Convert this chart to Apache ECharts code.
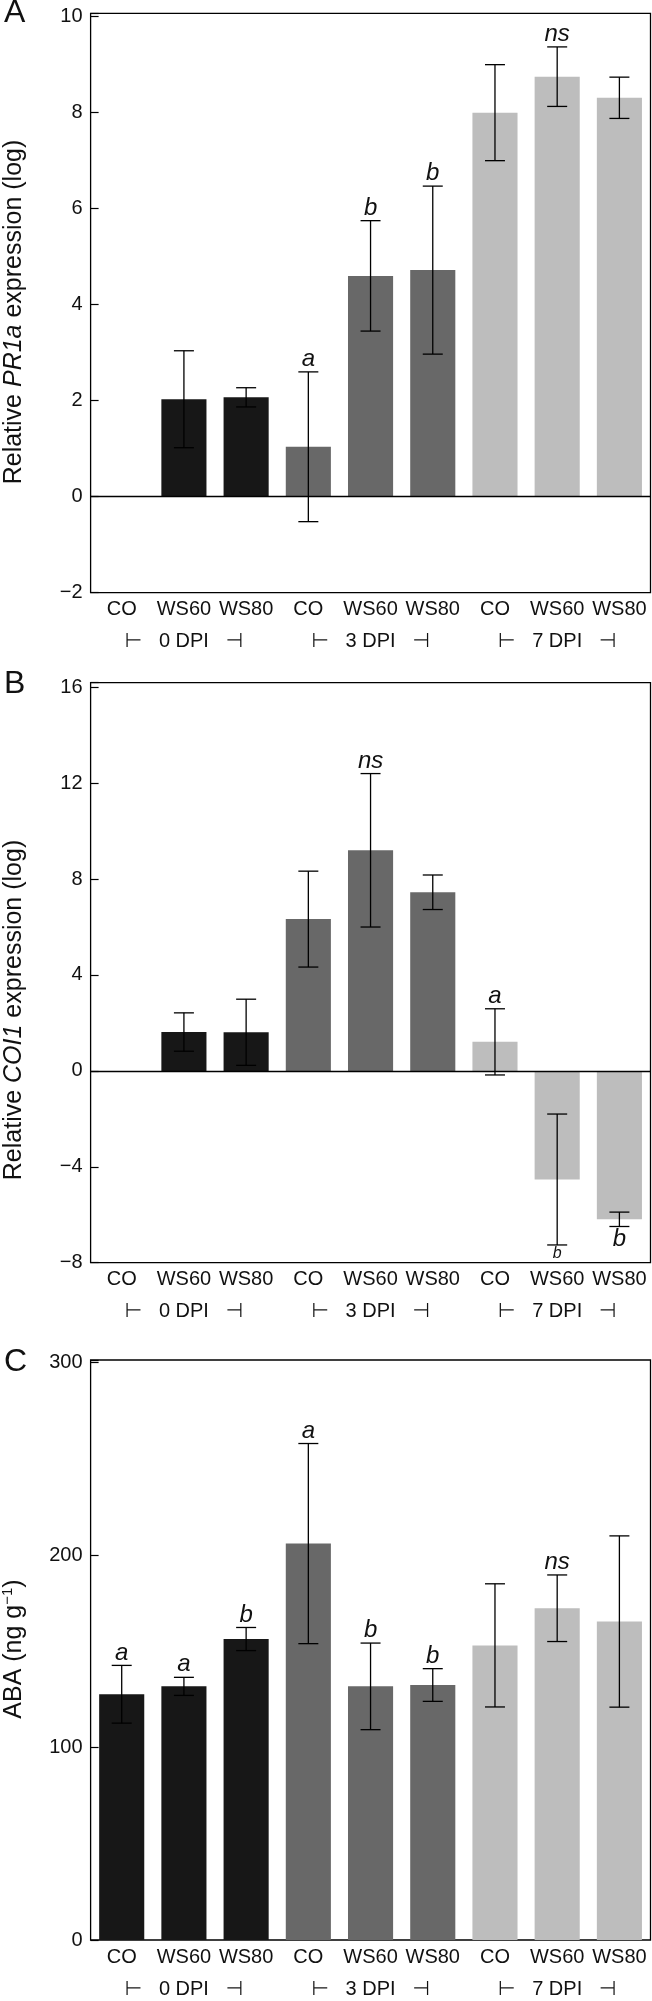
<!DOCTYPE html>
<html>
<head>
<meta charset="utf-8">
<script src="https://cdn.jsdelivr.net/npm/echarts@6/dist/echarts.min.js"></script>
<style>
html,body{margin:0;padding:0;background:#fff;}
#chart{width:652px;height:2001px;}
</style>
</head>
<body>
<div id="chart"></div>
<script>
// ---- data ----
const categories = ['CO', 'WS60', 'WS80', 'CO', 'WS60', 'WS80', 'CO', 'WS60', 'WS80'];
const groups = ['0 DPI', '3 DPI', '7 DPI'];

const pr1aMean = [null, 2.03, 2.07, 1.04, 4.60, 4.72, 8.00, 8.75, 8.31];
const pr1aErr  = [null, 1.01, 0.20, 1.56, 1.15, 1.75, 1.00, 0.62, 0.43];
const pr1aSig  = ['', '', '', 'a', 'b', 'b', '', 'ns', ''];

const coi1Mean = [null, 1.62, 1.61, 6.33, 9.20, 7.45, 1.21, -4.53, -6.19];
const coi1Err  = [null, 0.80, 1.38, 2.00, 3.20, 0.72, 1.38, 2.73, 0.30];
const coi1Sig  = ['', '', '', '', 'ns', '', 'a', 'b', 'b'];

const abaMean = [127.7, 131.8, 156.4, 206.0, 131.8, 132.5, 153.1, 172.4, 165.5];
const abaErr  = [15.0, 4.7, 6.0, 52.0, 22.5, 8.5, 32.0, 17.3, 44.5];
const abaSig  = ['a', 'a', 'b', 'a', 'b', 'b', '', 'ns', ''];

const yTicksA = {min: -2, max: 10, interval: 2};
const yTicksB = {min: -8, max: 16, interval: 4};
const yTicksC = {min: 0, max: 300, interval: 100};

// ---- styles ----
const FONT = "'Liberation Sans', Arial, Helvetica, 'DejaVu Sans', sans-serif";
const groupColors = ['#171717', '#686868', '#bdbdbd'];

const panels = [
  {mean: pr1aMean, err: pr1aErr, sig: pr1aSig, ticks: yTicksA, top: 13.3, height: 579.4, extra: 0.07,
   sigPos: [], sigSize: [], zero: true,
   name: '{n|Relative }{i|PR1a}{n| expression (log)}', titleY: 312, letter: 'A', letterY: 13},
  {mean: coi1Mean, err: coi1Err, sig: coi1Sig, ticks: yTicksB, top: 682.7, height: 580, extra: 0.19,
   sigPos: ['t','t','t','t','t','t','t','b','b'], sigSize: [24,24,24,24,24,24,24,16,24], zero: true,
   name: '{n|Relative }{i|COI1}{n| expression (log)}', titleY: 1010, letter: 'B', letterY: 684},
  {mean: abaMean, err: abaErr, sig: abaSig, ticks: yTicksC, top: 1360, height: 580, extra: 1.4,
   sigPos: [], sigSize: [], zero: false,
   name: '{n|ABA (ng g}{s|\u22121}{n|)}', titleY: 1649, letter: 'C', letterY: 1362}
];

const fmtTick = (interval) => (v) => {
  const r = Math.round(v / interval) * interval;
  if (Math.abs(v - r) > 1e-6) return '';
  return r < 0 ? '\u2212' + Math.abs(r) : String(r);
};

const option = {
  animation: false,
  backgroundColor: '#fff',
  textStyle: {fontFamily: FONT},
  grid: [], xAxis: [], yAxis: [], series: [], graphic: []
};

panels.forEach((p, k) => {
  option.grid.push({
    left: 90.6, right: 1.5, top: p.top, height: p.height,
    show: true, borderColor: '#000', borderWidth: 1.3, backgroundColor: 'transparent'
  });
  option.xAxis.push({
    gridIndex: k, type: 'category', data: categories,
    axisLine: {show: false, onZero: false}, axisTick: {show: false},
    axisLabel: {color: '#111', fontSize: 20, fontFamily: FONT, margin: 7, interval: 0}
  });
  option.xAxis.push({
    gridIndex: k, type: 'category', data: groups, position: 'bottom', offset: 32,
    axisLine: {show: false, onZero: false}, axisTick: {show: false},
    axisLabel: {color: '#111', fontSize: 20, fontFamily: FONT, margin: 7, interval: 0,
      formatter: (v) => '\u22A2   ' + v + '   \u22A3'}
  });
  option.yAxis.push({
    gridIndex: k, type: 'value', min: p.ticks.min, max: p.ticks.max + p.extra, interval: p.ticks.interval,
    axisLine: {show: false}, splitLine: {show: false},
    axisTick: {show: true, inside: true, length: 8, lineStyle: {color: '#000', width: 1.2}},
    axisLabel: {color: '#111', fontSize: 20, fontFamily: FONT, margin: 8, formatter: fmtTick(p.ticks.interval)}
  });
  const xi = k * 2;
  option.series.push({
    type: 'bar', xAxisIndex: xi, yAxisIndex: k, barWidth: '72.5%',
    data: p.mean.map((v, i) => ({value: v, itemStyle: {color: groupColors[Math.floor(i / 3)]}})),
    markLine: p.zero ? {
      silent: true, symbol: 'none', label: {show: false},
      lineStyle: {color: '#000', width: 1.3, type: 'solid'},
      data: [{yAxis: 0}]
    } : undefined,
    z: 2
  });
  option.series.push({
    type: 'custom', xAxisIndex: xi, yAxisIndex: k, z: 5,
    data: p.mean.map((v, i) => [i, v, p.err[i]]),
    renderItem: (params, api) => {
      const i = api.value(0), m = api.value(1), e = api.value(2);
      if (m == null || isNaN(m) || isNaN(e)) return {type: 'group', children: []};
      const hi = api.coord([i, m + e]);
      const lo = api.coord([i, m - e]);
      const x = hi[0], hw = 10;
      const ls = {stroke: '#000', lineWidth: 1.3};
      const children = [
        {type: 'line', shape: {x1: x, y1: hi[1], x2: x, y2: lo[1]}, style: ls},
        {type: 'line', shape: {x1: x - hw, y1: hi[1], x2: x + hw, y2: hi[1]}, style: ls},
        {type: 'line', shape: {x1: x - hw, y1: lo[1], x2: x + hw, y2: lo[1]}, style: ls}
      ];
      const s = p.sig[params.dataIndex];
      if (s) {
        const below = p.sigPos[params.dataIndex] === 'b';
        const size = p.sigSize[params.dataIndex] || 24;
        children.push({
          type: 'text',
          style: {
            text: s, x: x, y: below ? lo[1] + 1 : hi[1] - 0.5,
            align: 'center', verticalAlign: below ? 'top' : 'bottom',
            font: 'italic ' + size + 'px ' + FONT, fill: '#111'
          }
        });
      }
      return {type: 'group', children: children};
    }
  });
  option.graphic.push({
    type: 'text', x: 14, y: p.titleY, rotation: Math.PI / 2,
    style: {
      text: p.name, align: 'center', verticalAlign: 'middle', fill: '#111',
      rich: {
        n: {fontSize: 25, fontFamily: FONT, fill: '#111'},
        i: {fontSize: 25, fontFamily: FONT, fill: '#111', fontStyle: 'italic'},
        s: {fontSize: 15, fontFamily: FONT, fill: '#111', padding: [0, 0, 12, 0]}
      }
    }
  });
  option.graphic.push({
    type: 'text', left: 4, top: p.letterY - 16,
    style: {text: p.letter, font: '32px ' + FONT, fill: '#111'}
  });
});

const chart = echarts.init(document.getElementById('chart'), null, {renderer: 'canvas'});
chart.setOption(option);
</script>
</body>
</html>
